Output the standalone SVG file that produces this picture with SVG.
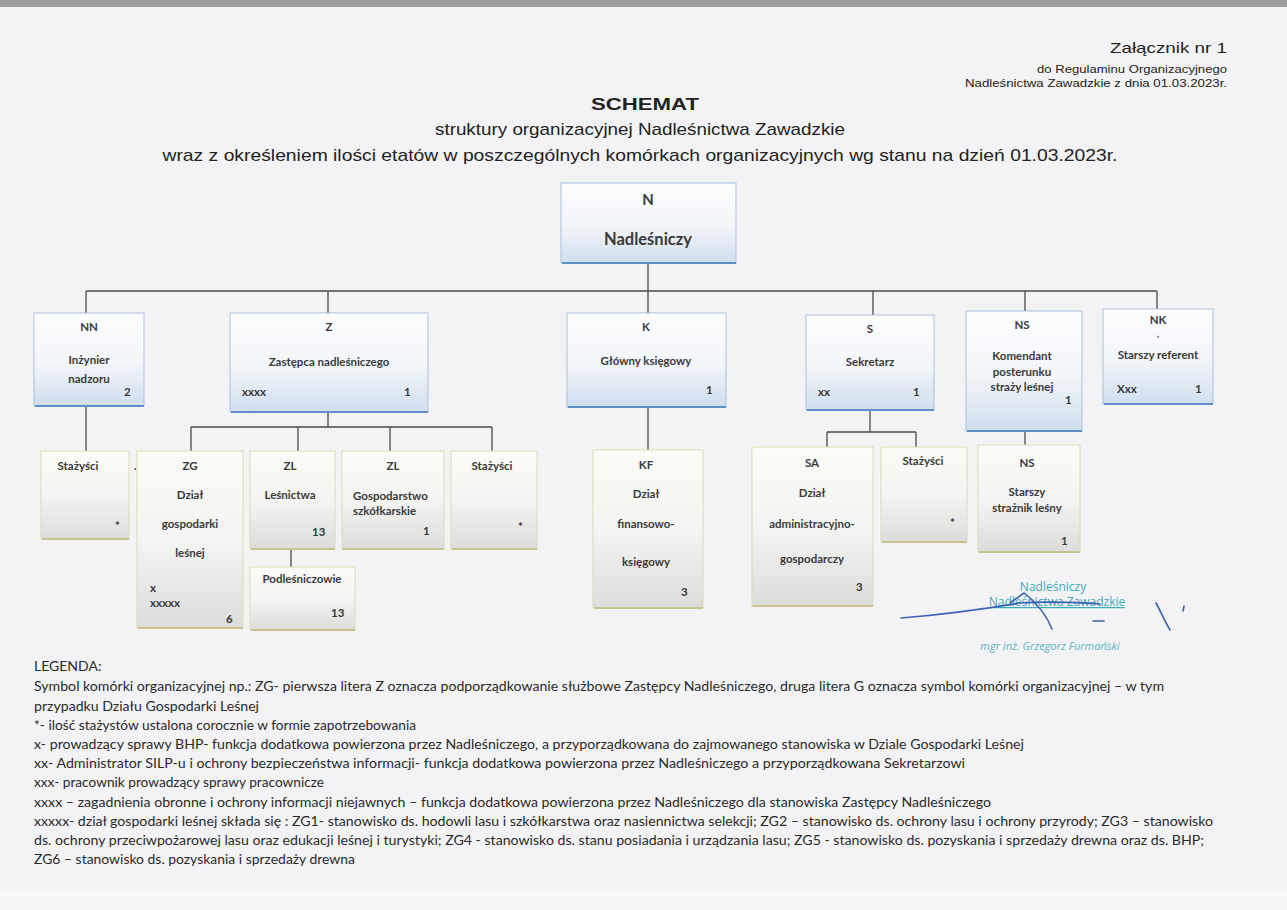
<svg xmlns="http://www.w3.org/2000/svg" width="1287" height="910" viewBox="0 0 1287 910">
<defs>
<linearGradient id="gBlue" x1="0" y1="0" x2="0" y2="1">
<stop offset="0" stop-color="#fdfdfe"/><stop offset="0.55" stop-color="#f2f5f9"/><stop offset="1" stop-color="#cfdeee"/>
</linearGradient>
<linearGradient id="gGray" x1="0" y1="0" x2="0" y2="1">
<stop offset="0" stop-color="#fbfbf8"/><stop offset="0.5" stop-color="#f4f4f2"/><stop offset="1" stop-color="#dcdcda"/>
</linearGradient>
<style>
.pg{fill:#f3f3f5}
.b1{fill:url(#gBlue);stroke:#a9c2de;stroke-width:1}
.b2{fill:url(#gGray);stroke:#dcdcb4;stroke-width:1}
.s1{stroke:#5e8fc6;stroke-width:2;fill:none}
.s2{stroke:#c9c392;stroke-width:2;fill:none}
.c{stroke:#4a4a4a;stroke-width:1.3;fill:none}
.t{font-family:Lato,"Noto Sans",sans-serif;font-size:11.5px;font-weight:bold;fill:#3a3a3a}
.m{text-anchor:middle}
.hd{font-family:"Liberation Sans",Arial,sans-serif;fill:#222}
.lg{font-family:Lato,"Noto Sans",sans-serif;font-size:13px;fill:#2a2a2a}
.sig{font-family:"Open Sans","Noto Sans",sans-serif;fill:#3fa9bb}
.scr{stroke:#3b62b5;stroke-width:1.6;fill:none;stroke-linecap:round}
</style>
</defs>
<rect x="0" y="0" width="1287" height="910" class="pg"/>
<rect x="0" y="0" width="1287" height="7" fill="#9d9d9f"/>
<rect x="0" y="890" width="1287" height="20" fill="#f7f7f8"/>

<g id="header">
<text class="hd" x="1227" y="53" font-size="15" text-anchor="end" textLength="117" lengthAdjust="spacingAndGlyphs">Załącznik nr 1</text>
<text class="hd" x="1227" y="73" font-size="10" text-anchor="end" textLength="190" lengthAdjust="spacingAndGlyphs">do  Regulaminu Organizacyjnego</text>
<text class="hd" x="1227" y="87" font-size="10" text-anchor="end" textLength="262" lengthAdjust="spacingAndGlyphs">Nadleśnictwa Zawadzkie  z dnia 01.03.2023r.</text>
<text class="hd" x="645" y="110" font-size="16" font-weight="bold" text-anchor="middle" textLength="108" lengthAdjust="spacingAndGlyphs">SCHEMAT</text>
<text class="hd" x="640" y="135" font-size="17" text-anchor="middle" textLength="410" lengthAdjust="spacingAndGlyphs">struktury organizacyjnej Nadleśnictwa Zawadzkie</text>
<text class="hd" x="640" y="161" font-size="17" text-anchor="middle" textLength="955" lengthAdjust="spacingAndGlyphs">wraz z określeniem ilości etatów w poszczególnych komórkach organizacyjnych wg stanu na dzień 01.03.2023r.</text>
</g>

<g id="connectors">
<path class="c" d="M648 263 V313"/>
<path class="c" d="M86 291 H1157"/>
<path class="c" d="M86 291 V313 M328 291 V313 M873 291 V315 M1025 291 V311 M1157 291 V309"/>
<path class="c" d="M86 406 V451"/>
<path class="c" d="M328 412 V427 M191 427 H492 M191 427 V451 M298 427 V451 M390 427 V451 M492 427 V451"/>
<path class="c" d="M291 549 V567"/>
<path class="c" d="M648 407 V450"/>
<path class="c" d="M870 410 V432 M827 432 H916 M827 432 V447 M916 432 V447"/>
<path class="c" d="M1025 431 V445"/>
</g>

<g id="N">
<rect class="b1" x="561" y="183" width="175" height="80"/>
<path class="s1" d="M562 263 H736"/>
<text class="t m" x="648" y="205" style="font-size:15px">N</text>
<text class="t m" x="648" y="245" style="font-size:16.5px">Nadleśniczy</text>
</g>

<g id="NN">
<rect class="b1" x="34" y="313" width="110" height="93"/>
<path class="s1" d="M35 406 H144"/>
<text class="t m" x="89" y="331">NN</text>
<text class="t m" x="89" y="364">Inżynier</text>
<text class="t m" x="89" y="383">nadzoru</text>
<text class="t" x="124" y="396">2</text>
</g>

<g id="Z">
<rect class="b1" x="230" y="313" width="198" height="99"/>
<path class="s1" d="M231 412 H428"/>
<text class="t m" x="329" y="331">Z</text>
<text class="t m" x="329" y="366">Zastępca  nadleśniczego</text>
<text class="t" x="242" y="396">xxxx</text>
<text class="t" x="404" y="396">1</text>
</g>

<g id="K">
<rect class="b1" x="567" y="313" width="159" height="94"/>
<path class="s1" d="M568 407 H726"/>
<text class="t m" x="646" y="331">K</text>
<text class="t m" x="646" y="365">Główny księgowy</text>
<text class="t" x="706" y="394">1</text>
</g>

<g id="S">
<rect class="b1" x="806" y="315" width="128" height="95"/>
<path class="s1" d="M807 410 H934"/>
<text class="t m" x="870" y="333">S</text>
<text class="t m" x="870" y="366">Sekretarz</text>
<text class="t" x="818" y="396">xx</text>
<text class="t" x="913" y="396">1</text>
</g>

<g id="NS">
<rect class="b1" x="966" y="311" width="116" height="120"/>
<path class="s1" d="M967 431 H1082"/>
<text class="t m" x="1022" y="329">NS</text>
<text class="t m" x="1022" y="360">Komendant</text>
<text class="t m" x="1022" y="376">posterunku</text>
<text class="t m" x="1022" y="391">straży leśnej</text>
<text class="t" x="1065" y="404">1</text>
</g>

<g id="NK">
<rect class="b1" x="1103" y="309" width="110" height="95"/>
<path class="s1" d="M1104 404 H1213"/>
<text class="t m" x="1158" y="324">NK</text>
<text class="t m" x="1158" y="337" style="font-size:9px">,</text>
<text class="t m" x="1158" y="359">Starszy referent</text>
<text class="t" x="1117" y="393">Xxx</text>
<text class="t" x="1195" y="393">1</text>
</g>

<g id="NN-stazysci">
<rect class="b2" x="41" y="451" width="88" height="88"/>
<path class="s2" d="M42 539 H129"/>
<text class="t m" x="78" y="470">Stażyści</text>
<text class="t" x="115" y="530">*</text>
<text class="t" x="134" y="470">.</text>
</g>

<g id="ZG">
<rect class="b2" x="137" y="451" width="106" height="177"/>
<path class="s2" d="M138 628 H243"/>
<text class="t m" x="190" y="470">ZG</text>
<text class="t m" x="190" y="499">Dział</text>
<text class="t m" x="190" y="528">gospodarki</text>
<text class="t m" x="190" y="557">leśnej</text>
<text class="t" x="150" y="592">x</text>
<text class="t" x="150" y="607">xxxxx</text>
<text class="t" x="226" y="623">6</text>
</g>

<g id="ZL-lesnictwa">
<rect class="b2" x="250" y="451" width="85" height="98"/>
<path class="s2" d="M251 549 H335"/>
<text class="t m" x="290" y="470">ZL</text>
<text class="t m" x="290" y="499">Leśnictwa</text>
<text class="t" x="312" y="536">13</text>
</g>

<g id="Podlesniczowie">
<rect class="b2" x="250" y="567" width="105" height="63"/>
<path class="s2" d="M251 630 H355"/>
<text class="t m" x="302" y="583">Podleśniczowie</text>
<text class="t" x="331" y="617">13</text>
</g>

<g id="ZL-gospodarstwo">
<rect class="b2" x="342" y="451" width="102" height="98"/>
<path class="s2" d="M343 549 H444"/>
<text class="t m" x="393" y="470">ZL</text>
<text class="t" x="353" y="500">Gospodarstwo</text>
<text class="t" x="353" y="515">szkółkarskie</text>
<text class="t" x="423" y="535">1</text>
</g>

<g id="Z-stazysci">
<rect class="b2" x="451" y="451" width="86" height="98"/>
<path class="s2" d="M452 549 H537"/>
<text class="t m" x="492" y="470">Stażyści</text>
<text class="t" x="518" y="531">*</text>
</g>

<g id="KF">
<rect class="b2" x="593" y="450" width="110" height="158"/>
<path class="s2" d="M594 608 H703"/>
<text class="t m" x="646" y="469">KF</text>
<text class="t m" x="646" y="498">Dział</text>
<text class="t m" x="646" y="528">finansowo-</text>
<text class="t m" x="646" y="566">księgowy</text>
<text class="t" x="681" y="596">3</text>
</g>

<g id="SA">
<rect class="b2" x="752" y="447" width="121" height="159"/>
<path class="s2" d="M753 606 H873"/>
<text class="t m" x="812" y="467">SA</text>
<text class="t m" x="812" y="497">Dział</text>
<text class="t m" x="812" y="528">administracyjno-</text>
<text class="t m" x="812" y="563">gospodarczy</text>
<text class="t" x="856" y="591">3</text>
</g>

<g id="S-stazysci">
<rect class="b2" x="881" y="447" width="86" height="95"/>
<path class="s2" d="M882 542 H967"/>
<text class="t m" x="923" y="465">Stażyści</text>
<text class="t" x="950" y="527">*</text>
</g>

<g id="NS-straznik">
<rect class="b2" x="978" y="445" width="102" height="107"/>
<path class="s2" d="M979 552 H1080"/>
<text class="t m" x="1027" y="467">NS</text>
<text class="t m" x="1027" y="496">Starszy</text>
<text class="t m" x="1027" y="512">strażnik leśny</text>
<text class="t" x="1061" y="545">1</text>
</g>

<g id="signature">
<text class="sig" x="1053" y="591" font-size="12" text-anchor="middle">Nadleśniczy</text>
<text class="sig" x="1057" y="606" font-size="12" text-anchor="middle" text-decoration="underline">Nadleśnictwa Zawadzkie</text>
<text class="sig" x="1050" y="650" font-size="11" font-style="italic" text-anchor="middle" opacity="0.85">mgr inż. Grzegorz Furmański</text>
<path class="scr" d="M901 618 C950 614 990 608 1020 603 C1050 601 1090 603 1100 604"/>
<path class="scr" d="M1010 603 L1024 593 L1030 598 C1038 606 1046 614 1052 629"/>
<path class="scr" d="M1093 621 L1104 621"/>
<path class="scr" d="M1156 603 C1161 612 1164 620 1170 630"/>
<path class="scr" d="M1184 606 L1183 611"/>
</g>

<g id="legend">
<text class="lg" x="34" y="671" style="font-size:14px">LEGENDA:</text>
<text class="lg" x="34" y="691" textLength="1130" lengthAdjust="spacingAndGlyphs">Symbol komórki organizacyjnej np.: ZG- pierwsza litera Z oznacza podporządkowanie służbowe Zastępcy Nadleśniczego, druga litera G oznacza symbol komórki organizacyjnej – w tym</text>
<text class="lg" x="34" y="711" textLength="225" lengthAdjust="spacingAndGlyphs">przypadku Działu Gospodarki Leśnej</text>
<text class="lg" x="34" y="730" textLength="382" lengthAdjust="spacingAndGlyphs">*- ilość stażystów ustalona corocznie w formie zapotrzebowania</text>
<text class="lg" x="34" y="749" textLength="990" lengthAdjust="spacingAndGlyphs">x- prowadzący sprawy BHP- funkcja dodatkowa powierzona przez Nadleśniczego, a przyporządkowana do zajmowanego stanowiska w Dziale Gospodarki Leśnej</text>
<text class="lg" x="34" y="768" textLength="931" lengthAdjust="spacingAndGlyphs">xx- Administrator SILP-u i ochrony bezpieczeństwa informacji-  funkcja dodatkowa powierzona przez Nadleśniczego a przyporządkowana Sekretarzowi</text>
<text class="lg" x="34" y="787" textLength="290" lengthAdjust="spacingAndGlyphs">xxx- pracownik prowadzący sprawy pracownicze</text>
<text class="lg" x="34" y="807" textLength="957" lengthAdjust="spacingAndGlyphs">xxxx – zagadnienia obronne i ochrony informacji niejawnych – funkcja dodatkowa powierzona przez Nadleśniczego dla stanowiska Zastępcy Nadleśniczego</text>
<text class="lg" x="34" y="826" textLength="1179" lengthAdjust="spacingAndGlyphs">xxxxx- dział gospodarki leśnej składa się : ZG1- stanowisko ds. hodowli lasu i szkółkarstwa oraz nasiennictwa selekcji; ZG2 – stanowisko ds. ochrony lasu i ochrony przyrody; ZG3 – stanowisko</text>
<text class="lg" x="34" y="845" textLength="1170" lengthAdjust="spacingAndGlyphs">ds. ochrony przeciwpożarowej lasu oraz edukacji leśnej i turystyki; ZG4 - stanowisko ds. stanu posiadania i urządzania lasu; ZG5 - stanowisko ds. pozyskania i sprzedaży drewna oraz ds. BHP;</text>
<text class="lg" x="34" y="864" textLength="321" lengthAdjust="spacingAndGlyphs">ZG6 – stanowisko ds. pozyskania i sprzedaży drewna</text>
</g>
</svg>
